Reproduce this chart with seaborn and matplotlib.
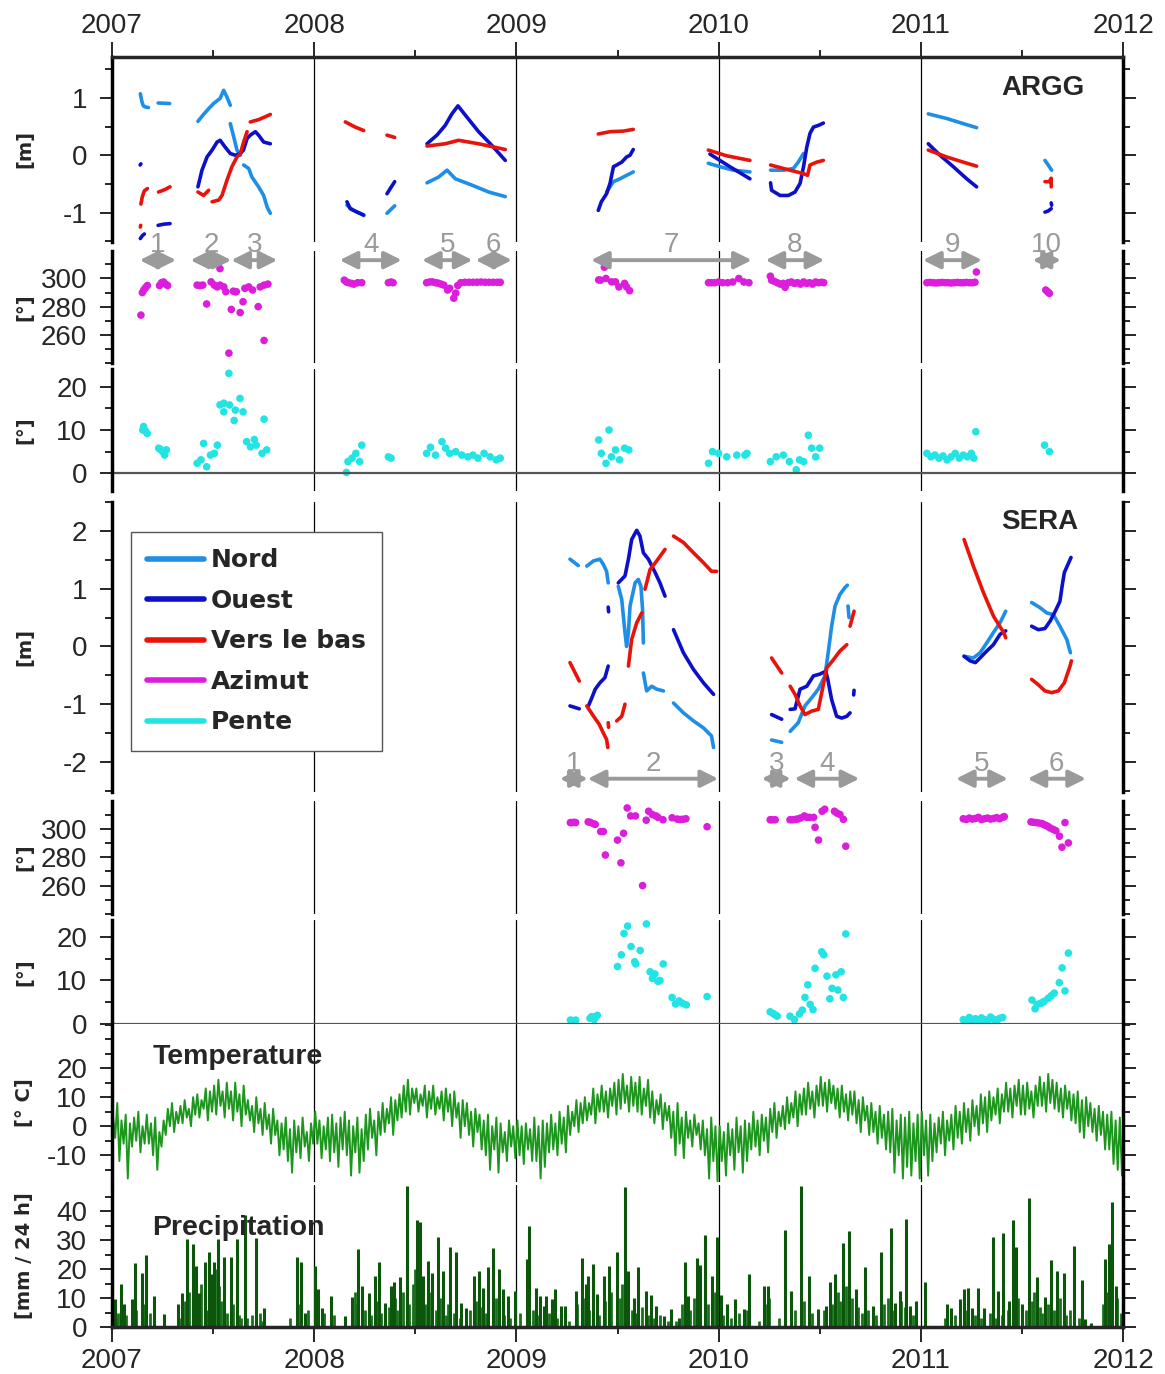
import numpy as np
import pandas as pd
import matplotlib
matplotlib.use("Agg")
import matplotlib.pyplot as plt
import seaborn as sns
from matplotlib.lines import Line2D
from matplotlib.ticker import MultipleLocator
from matplotlib.font_manager import FontProperties

# ---------------- data (decimal years) ----------------
# ARGG displacement [m], one list of (t, value) per continuous stretch
argg_nord = [
    [(2007.140, 1.07), (2007.148, 0.93), (2007.155, 0.86), (2007.165, 0.84), (2007.180, 0.83)],
    [(2007.228, 0.91), (2007.285, 0.90)],
    [(2007.425, 0.59), (2007.455, 0.72), (2007.478, 0.81), (2007.502, 0.90), (2007.535, 0.99),
     (2007.552, 1.13), (2007.569, 1.01), (2007.585, 0.87)],
    [(2007.585, 0.55), (2007.602, 0.32), (2007.618, 0.09), (2007.635, 0.00)],
    [(2007.651, -0.17), (2007.676, -0.23), (2007.692, -0.38), (2007.725, -0.55), (2007.750, -0.70),
     (2007.767, -0.90), (2007.783, -1.01)],
    [(2008.162, -0.87), (2008.190, -0.95), (2008.220, -1.00), (2008.245, -1.05)],
    [(2008.360, -1.01), (2008.398, -0.88)],
    [(2008.558, -0.48), (2008.615, -0.38), (2008.657, -0.26), (2008.698, -0.41), (2008.780, -0.52),
     (2008.863, -0.64), (2008.945, -0.72)],
    [(2009.446, -0.64), (2009.480, -0.46), (2009.512, -0.41), (2009.545, -0.35), (2009.578, -0.29)],
    [(2009.949, -0.14), (2010.007, -0.20), (2010.073, -0.26), (2010.155, -0.29)],
    [(2010.257, -0.26), (2010.320, -0.26), (2010.370, -0.23), (2010.394, -0.12), (2010.420, 0.03)],
    [(2011.037, 0.72), (2011.128, 0.64), (2011.210, 0.55), (2011.276, 0.48)],
    [(2011.614, -0.09), (2011.630, -0.17), (2011.647, -0.26)],
]
argg_ouest = [
    [(2007.139, -0.17), (2007.143, -0.15)],
    [(2007.140, -1.45), (2007.150, -1.40), (2007.160, -1.37)],
    [(2007.228, -1.22), (2007.255, -1.20), (2007.287, -1.19)],
    [(2007.425, -0.55), (2007.445, -0.26), (2007.470, -0.03), (2007.495, 0.09), (2007.520, 0.23),
     (2007.535, 0.26), (2007.560, 0.14), (2007.585, 0.03), (2007.610, 0.00), (2007.635, 0.03),
     (2007.650, 0.09), (2007.668, 0.29), (2007.684, 0.35), (2007.709, 0.41), (2007.725, 0.35),
     (2007.750, 0.23), (2007.783, 0.20)],
    [(2008.162, -0.81), (2008.178, -0.93), (2008.212, -0.99), (2008.245, -1.04)],
    [(2008.360, -0.67), (2008.398, -0.46)],
    [(2008.558, 0.20), (2008.607, 0.35), (2008.648, 0.52), (2008.681, 0.72), (2008.711, 0.86),
     (2008.747, 0.70), (2008.813, 0.41), (2008.879, 0.17), (2008.945, -0.09)],
    [(2009.405, -0.96), (2009.420, -0.81), (2009.446, -0.67), (2009.463, -0.49), (2009.480, -0.20),
     (2009.496, -0.17), (2009.521, -0.12), (2009.545, -0.03), (2009.562, 0.00), (2009.578, 0.10)],
    [(2009.957, 0.02), (2010.056, -0.20), (2010.155, -0.41)],
    [(2010.257, -0.48), (2010.262, -0.61), (2010.304, -0.70), (2010.345, -0.70), (2010.378, -0.64),
     (2010.403, -0.49), (2010.420, -0.20), (2010.436, 0.14), (2010.452, 0.38), (2010.469, 0.49),
     (2010.494, 0.52), (2010.518, 0.56)],
    [(2011.037, 0.20), (2011.095, 0.00), (2011.161, -0.20), (2011.227, -0.41), (2011.276, -0.55)],
    [(2011.645, -0.83), (2011.647, -0.87)],
    [(2011.614, -0.99), (2011.630, -0.97), (2011.645, -0.93)],
]
argg_bas = [
    [(2007.140, -1.25), (2007.142, -1.22)],
    [(2007.143, -0.85), (2007.150, -0.72), (2007.160, -0.62), (2007.175, -0.58)],
    [(2007.230, -0.64), (2007.260, -0.60), (2007.287, -0.55)],
    [(2007.425, -0.64), (2007.453, -0.70), (2007.478, -0.61)],
    [(2007.495, -0.81), (2007.528, -0.78), (2007.544, -0.70), (2007.569, -0.43), (2007.593, -0.20),
     (2007.618, -0.03), (2007.635, 0.03), (2007.651, 0.23), (2007.668, 0.41)],
    [(2007.684, 0.58), (2007.725, 0.62), (2007.758, 0.67), (2007.783, 0.71)],
    [(2008.154, 0.58), (2008.203, 0.49), (2008.245, 0.43)],
    [(2008.360, 0.35), (2008.398, 0.31)],
    [(2008.558, 0.16), (2008.648, 0.20), (2008.714, 0.26), (2008.813, 0.20), (2008.945, 0.10)],
    [(2009.405, 0.37), (2009.463, 0.41), (2009.529, 0.42), (2009.578, 0.45)],
    [(2009.949, 0.09), (2010.040, -0.01), (2010.155, -0.09)],
    [(2010.257, -0.17), (2010.320, -0.23), (2010.386, -0.29), (2010.420, -0.32), (2010.440, -0.35),
     (2010.452, -0.17), (2010.485, -0.12), (2010.518, -0.09)],
    [(2011.037, 0.09), (2011.128, -0.03), (2011.210, -0.12), (2011.276, -0.19)],
    [(2011.614, -0.46), (2011.635, -0.46), (2011.645, -0.40), (2011.645, -0.55)],
]

# SERA displacement [m]
sera_nord = [
    [(2009.265, 1.51), (2009.306, 1.40)],
    [(2009.348, 1.39), (2009.381, 1.48), (2009.413, 1.51), (2009.430, 1.42), (2009.446, 1.30), (2009.454, 1.10)],
    [(2009.504, 1.04), (2009.521, 0.81), (2009.537, 0.24), (2009.545, 0.00), (2009.554, 0.24),
     (2009.562, 0.70), (2009.587, 1.10), (2009.603, 1.16), (2009.616, 1.04), (2009.624, 0.64), (2009.628, 0.06)],
    [(2009.628, -0.46), (2009.644, -0.77), (2009.669, -0.69), (2009.694, -0.74), (2009.727, -0.77)],
    [(2009.777, -0.98), (2009.826, -1.15), (2009.876, -1.29), (2009.925, -1.41), (2009.965, -1.55), (2009.975, -1.75)],
    [(2010.262, -1.62), (2010.312, -1.66)],
    [(2010.354, -1.47), (2010.394, -1.32), (2010.427, -1.03), (2010.460, -0.89), (2010.493, -0.74),
     (2010.526, -0.51), (2010.543, -0.08), (2010.559, 0.35), (2010.576, 0.70), (2010.600, 0.90),
     (2010.625, 1.02), (2010.637, 1.06)],
    [(2010.640, 0.70), (2010.645, 0.50)],
    [(2011.214, -0.17), (2011.260, -0.20), (2011.293, -0.11), (2011.326, 0.06), (2011.359, 0.24),
     (2011.392, 0.41), (2011.420, 0.61)],
    [(2011.548, 0.76), (2011.590, 0.67), (2011.623, 0.58), (2011.656, 0.55), (2011.688, 0.35),
     (2011.722, 0.12), (2011.740, -0.11)],
]
sera_ouest = [
    [(2009.265, -1.03), (2009.311, -1.08)],
    [(2009.356, -1.03), (2009.373, -0.89), (2009.390, -0.74), (2009.413, -0.63), (2009.438, -0.54), (2009.454, -0.34)],
    [(2009.454, 0.68), (2009.456, 0.60)],
    [(2009.504, 1.10), (2009.537, 1.22), (2009.554, 1.51), (2009.570, 1.85), (2009.595, 2.01),
     (2009.611, 1.91), (2009.628, 1.62), (2009.653, 1.51), (2009.686, 1.28), (2009.710, 1.10), (2009.735, 0.87)],
    [(2009.777, 0.29), (2009.826, -0.11), (2009.876, -0.40), (2009.925, -0.63), (2009.975, -0.83)],
    [(2010.262, -1.18), (2010.312, -1.26)],
    [(2010.354, -1.09), (2010.378, -1.08), (2010.403, -0.74), (2010.436, -0.69), (2010.469, -0.51),
     (2010.500, -0.48), (2010.530, -0.43), (2010.540, -0.57), (2010.559, -0.92), (2010.584, -1.21),
     (2010.609, -1.24), (2010.634, -1.21), (2010.650, -1.15)],
    [(2010.668, -0.84), (2010.670, -0.76)],
    [(2011.214, -0.17), (2011.244, -0.25), (2011.270, -0.28), (2011.293, -0.20), (2011.326, -0.08),
     (2011.359, 0.03), (2011.392, 0.21), (2011.420, 0.27)],
    [(2011.548, 0.35), (2011.581, 0.29), (2011.614, 0.31), (2011.640, 0.44), (2011.665, 0.61),
     (2011.688, 0.78), (2011.700, 1.07), (2011.710, 1.28), (2011.743, 1.54)],
]
sera_bas = [
    [(2009.265, -0.28), (2009.311, -0.60)],
    [(2009.348, -1.03), (2009.380, -1.20), (2009.410, -1.35), (2009.430, -1.50), (2009.446, -1.61), (2009.452, -1.75)],
    [(2009.454, -1.32), (2009.456, -1.40)],
    [(2009.496, -1.29), (2009.521, -1.21), (2009.537, -1.00)],
    [(2009.554, -0.34), (2009.570, 0.12), (2009.595, 0.41), (2009.620, 0.58)],
    [(2009.636, 0.99), (2009.661, 1.33), (2009.694, 1.48), (2009.735, 1.68)],
    [(2009.777, 1.91), (2009.826, 1.80), (2009.876, 1.62), (2009.925, 1.45), (2009.965, 1.30), (2009.990, 1.30)],
    [(2010.262, -0.20), (2010.312, -0.46)],
    [(2010.354, -0.69), (2010.378, -0.83), (2010.403, -1.03), (2010.427, -1.18), (2010.460, -1.12),
     (2010.493, -1.09), (2010.510, -0.80), (2010.535, -0.37), (2010.568, -0.23), (2010.600, -0.08), (2010.634, 0.03)],
    [(2010.650, 0.35), (2010.670, 0.61)],
    [(2011.214, 1.85), (2011.260, 1.39), (2011.310, 0.93), (2011.360, 0.52), (2011.410, 0.24), (2011.420, 0.15)],
    [(2011.548, -0.57), (2011.580, -0.66), (2011.614, -0.77), (2011.647, -0.80), (2011.680, -0.77),
     (2011.710, -0.63), (2011.738, -0.34), (2011.745, -0.25)],
]

# ARGG azimuth [deg]
argg_az_t = [2007.143, 2007.150, 2007.158, 2007.166, 2007.175, 2007.235, 2007.245, 2007.255, 2007.265, 2007.275,
             2007.421, 2007.435, 2007.449, 2007.468, 2007.490, 2007.506, 2007.520, 2007.534, 2007.534, 2007.553,
             2007.563, 2007.578, 2007.590, 2007.600, 2007.610, 2007.615, 2007.634, 2007.648, 2007.657, 2007.676,
             2007.695, 2007.723, 2007.733, 2007.752, 2007.752, 2007.771,
             2008.149, 2008.160, 2008.170, 2008.185, 2008.196, 2008.215, 2008.235, 2008.367, 2008.380, 2008.390,
             2008.556, 2008.570, 2008.585, 2008.600, 2008.613, 2008.627, 2008.641, 2008.660, 2008.670, 2008.690,
             2008.700, 2008.710, 2008.725, 2008.745, 2008.765, 2008.785, 2008.805, 2008.825, 2008.845, 2008.865,
             2008.885, 2008.905, 2008.920,
             2009.407, 2009.416, 2009.435, 2009.443, 2009.471, 2009.490, 2009.507, 2009.535, 2009.545, 2009.560,
             2009.950, 2009.965, 2009.980, 2010.000, 2010.020, 2010.045, 2010.070, 2010.100, 2010.125, 2010.150,
             2010.256, 2010.262, 2010.275, 2010.290, 2010.305, 2010.320, 2010.329, 2010.345, 2010.360, 2010.375,
             2010.390, 2010.405, 2010.420, 2010.435, 2010.450, 2010.465, 2010.480, 2010.495, 2010.510, 2010.520,
             2011.030, 2011.045, 2011.060, 2011.075, 2011.090, 2011.105, 2011.120, 2011.135, 2011.150, 2011.165,
             2011.180, 2011.195, 2011.210, 2011.225, 2011.240, 2011.255, 2011.268, 2011.275,
             2011.618, 2011.628, 2011.636]
argg_az = [274, 290, 292, 293.5, 295, 295, 297, 297.5, 296, 295,
           295.3, 295, 295.3, 281.9, 297.6, 295.3, 294, 307, 295.3, 294,
           290.6, 247, 278, 291, 290.6, 290.6, 275.8, 283.5, 293, 294,
           291.8, 280, 294, 295.3, 256, 296,
           298.8, 297.5, 297, 296.5, 296, 297, 297, 297, 297.5, 297,
           297, 297.5, 297.6, 297, 296.7, 296, 295.3, 291.8, 293, 286,
           289.6, 295, 297, 297.3, 297.3, 297.3, 297.3, 297.5, 297.3, 297.3,
           297.3, 297.3, 297.3,
           299, 298.8, 308, 300, 297.6, 297.6, 294, 296.5, 294, 291.3,
           297, 297, 297, 297.5, 297, 297, 297.5, 300, 297.5, 297,
           301.6, 298.8, 298, 297, 296, 296.5, 293.7, 297, 297.5, 296.5,
           297, 296, 297.5, 296.5, 297, 296, 297.5, 297, 297.3, 297,
           297, 297.2, 297, 296.8, 297, 297.2, 297, 297, 296.8, 297,
           297.2, 297, 297, 297.2, 297, 297, 297.3, 304.6,
           291.8, 290.5, 289.4]

# ARGG slope [deg]
argg_pente_t = [2007.152, 2007.156, 2007.165, 2007.174, 2007.231, 2007.240, 2007.250, 2007.260, 2007.269,
                2007.421, 2007.440, 2007.453, 2007.468, 2007.487, 2007.506, 2007.521, 2007.534, 2007.553, 2007.553,
                2007.578, 2007.581, 2007.604, 2007.610, 2007.633, 2007.648, 2007.666, 2007.685, 2007.704, 2007.713,
                2007.742, 2007.752, 2007.765,
                2008.159, 2008.167, 2008.187, 2008.206, 2008.225, 2008.235, 2008.367, 2008.380,
                2008.556, 2008.575, 2008.600, 2008.632, 2008.650, 2008.670, 2008.700, 2008.730, 2008.760, 2008.785,
                2008.810, 2008.840, 2008.870, 2008.900, 2008.920,
                2009.407, 2009.420, 2009.443, 2009.458, 2009.470, 2009.490, 2009.510, 2009.535, 2009.556,
                2009.950, 2009.970, 2010.000, 2010.040, 2010.090, 2010.130, 2010.140,
                2010.256, 2010.285, 2010.320, 2010.350, 2010.384, 2010.400, 2010.420, 2010.444, 2010.460, 2010.480,
                2010.500,
                2011.030, 2011.050, 2011.070, 2011.090, 2011.110, 2011.130, 2011.150, 2011.170, 2011.190, 2011.210,
                2011.230, 2011.250, 2011.262, 2011.272,
                2011.612, 2011.636]
argg_pente = [10.0, 10.8, 9.8, 9.2, 5.8, 5.5, 5.0, 4.2, 5.4,
              2.3, 3.1, 6.9, 1.5, 4.2, 4.6, 6.5, 15.8, 16.2, 14.2,
              23.1, 15.8, 12.2, 14.6, 17.3, 14.2, 7.3, 6.1, 7.8, 6.5,
              4.6, 12.5, 5.4,
              0.2, 2.7, 3.5, 4.6, 2.7, 6.5, 3.8, 3.5,
              4.6, 6.0, 4.2, 7.3, 5.8, 4.6, 5.0, 4.2, 3.8, 4.2,
              3.5, 4.6, 3.8, 3.1, 3.5,
              7.7, 4.6, 2.3, 10.0, 3.8, 5.4, 3.1, 5.8, 5.4,
              2.3, 5.0, 4.6, 3.8, 4.2, 4.2, 4.6,
              2.7, 3.8, 4.2, 2.7, 0.8, 3.1, 2.7, 8.8, 5.8, 3.8,
              5.8,
              4.6, 3.8, 4.2, 3.5, 4.0, 3.1, 3.8, 4.6, 3.5, 4.2,
              3.8, 4.6, 3.5, 9.6,
              6.5, 5.0]

# SERA azimuth [deg]
sera_az_t = [2009.267, 2009.275, 2009.285, 2009.293,
             2009.355, 2009.365, 2009.380, 2009.390, 2009.417, 2009.430, 2009.440, 2009.500, 2009.517, 2009.530,
             2009.548, 2009.565, 2009.589, 2009.624, 2009.642, 2009.654, 2009.672, 2009.690, 2009.700, 2009.725,
             2009.770, 2009.795, 2009.810, 2009.823, 2009.838, 2009.943,
             2010.255, 2010.265, 2010.280,
             2010.353, 2010.365, 2010.380, 2010.390, 2010.405, 2010.424, 2010.437, 2010.450, 2010.470, 2010.477,
             2010.494, 2010.512, 2010.525, 2010.573, 2010.585, 2010.600, 2010.617, 2010.629,
             2011.210, 2011.225, 2011.240, 2011.255, 2011.270, 2011.285, 2011.300, 2011.315, 2011.330, 2011.345,
             2011.360, 2011.375, 2011.390, 2011.405, 2011.413,
             2011.545, 2011.557, 2011.570, 2011.585, 2011.600, 2011.610, 2011.620, 2011.630, 2011.640, 2011.655,
             2011.668, 2011.686, 2011.698, 2011.713, 2011.730]
sera_az = [304.3, 304.3, 304.5, 304.3,
           304.8, 304.5, 303.6, 303, 298, 298, 281.5, 292, 276, 296.8,
           314.6, 309, 309, 260, 306, 312.3, 310, 309, 308, 306.3,
           307.7, 306.8, 306.5, 306.6, 307, 301.4,
           306.3, 306.3, 306.3,
           306.3, 306.3, 306.5, 306.8, 307.5, 309, 308, 308, 308, 301,
           292, 312.3, 313.7, 312.3, 311, 310, 306.6, 287.7,
           307, 306.5, 307.5, 306.8, 307.2, 308, 306.5, 307, 307.5, 306.8,
           307.2, 307.8, 307, 308, 308.5,
           304.8, 304.5, 304.3, 304, 303.6, 302.8, 302.3, 301.5, 300.5, 299.5,
           298.6, 294.7, 287, 304.3, 290]

# SERA slope [deg]
sera_pente_t = [2009.267, 2009.275, 2009.293, 2009.364, 2009.372, 2009.385, 2009.392, 2009.400,
                2009.500, 2009.519, 2009.532, 2009.550, 2009.567, 2009.585, 2009.590, 2009.612, 2009.643, 2009.661,
                2009.673, 2009.685, 2009.700, 2009.710, 2009.726, 2009.770, 2009.787, 2009.805, 2009.820, 2009.840,
                2009.943,
                2010.255, 2010.270, 2010.280, 2010.290,
                2010.353, 2010.375, 2010.400, 2010.414, 2010.427, 2010.441, 2010.453, 2010.467, 2010.477, 2010.510,
                2010.520, 2010.536, 2010.550, 2010.561, 2010.580, 2010.590, 2010.606, 2010.617, 2010.629,
                2011.210, 2011.225, 2011.240, 2011.255, 2011.270, 2011.285, 2011.300, 2011.315, 2011.330, 2011.345,
                2011.360, 2011.375, 2011.390, 2011.405,
                2011.550, 2011.565, 2011.575, 2011.590, 2011.600, 2011.610, 2011.630, 2011.645, 2011.660, 2011.685,
                2011.699, 2011.713, 2011.730]
sera_pente = [0.9, 0.8, 0.9, 1.3, 1.7, 1.0, 1.6, 2.0,
              13.2, 15.9, 20.8, 22.5, 17.8, 14.3, 13.8, 16.9, 23.0, 12.0,
              10.5, 11.5, 9.8, 10.0, 13.8, 6.1, 4.6, 5.3, 4.8, 4.4,
              6.3,
              2.8, 2.4, 2.1, 1.8,
              1.8, 1.0, 2.3, 3.2, 6.1, 9.0, 4.5, 3.3, 12.8, 16.6,
              15.9, 11.0, 5.8, 8.2, 11.3, 7.8, 12.0, 6.1, 20.7,
              1.0, 0.6, 1.5, 0.8, 1.2, 0.5, 1.4, 1.0, 0.7, 1.6,
              1.1, 0.8, 1.3, 1.5,
              5.5, 3.5, 4.5, 4.7, 4.9, 5.2, 5.9, 6.5, 7.1, 9.5,
              12.9, 7.6, 16.3]

# temperature [deg C], 96 readings per year (8 per month)
temp_2007 = [3, -4, 8, -12, 2, -6, 4, -18, 1, -7, 3, -5, 5, -9, 0, -6,
             4, -6, 1, -10, 3, -15, -2, -7, 2, -3, 6, 0, 8, -2, 5, 1,
             7, 1, 9, 3, 6, 0, 10, 4, 11, 3, 9, 6, 13, 2, 12, 5,
             14, 4, 16, 7, 12, 3, 15, 6, 12, 2, 15, 5, 11, 0, 14, 4,
             9, 2, 7, -2, 10, 1, 6, -3, 8, -1, 4, -6, 6, -3, 2, -10,
             1, -8, 3, -12, -1, -16, 2, -9, 0, -11, 3, -7, -2, -12, 1, -6]
temp_2008 = [5, -6, 2, -11, 0, -8, 3, -12, 4, -9, 1, -14, 3, -8, 5, -10,
             2, -17, 0, -9, 3, -16, -1, -12, 4, -8, 6, -4, 2, -10, 5, -3,
             8, -2, 6, 1, 10, -3, 9, 2, 11, 3, 14, 5, 16, 4, 13, 8,
             13, 5, 11, 7, 14, 3, 12, 6, 14, 4, 10, 6, 12, 2, 13, 5,
             11, 0, 12, 3, 8, -4, 9, 0, 8, -3, 5, -7, 6, -2, 4, -8,
             2, -10, 4, -15, 0, -8, 3, -16, 1, -9, -2, -12, 2, -7, 0, -11]
temp_2009 = [2, -10, 0, -13, 1, -8, -1, -12, 3, -12, 0, -18, 2, -14, 1, -9,
             4, -8, 1, -10, 5, -6, 3, -9, 7, -3, 5, 0, 9, -2, 8, 1,
             10, 2, 8, 4, 13, 1, 11, 5, 14, 5, 12, 3, 13, 7, 15, 4,
             16, 6, 18, 8, 14, 5, 17, 7, 15, 5, 17, 4, 13, 7, 16, 3,
             12, 1, 9, 4, 11, -1, 8, 2, 7, -4, 5, -10, 8, -6, 3, -11,
             5, -4, 2, -7, 4, -3, 1, -8, 2, -10, -1, -18, 3, -12, 0, -19]
temp_2010 = [0, -12, -2, -17, 1, -10, -1, -15, 3, -9, 0, -16, 2, -12, 1, -8,
             5, -7, 2, -10, 4, -5, 3, -9, 6, -2, 8, -4, 5, 0, 7, -1,
             10, 1, 8, 3, 12, 0, 11, 4, 13, 4, 15, 6, 12, 3, 14, 7,
             17, 7, 15, 5, 16, 8, 14, 6, 13, 3, 14, 5, 11, 2, 12, 4,
             12, 1, 9, -2, 10, 2, 7, -3, 8, -2, 5, -6, 7, -4, 4, -8,
             5, -9, 6, -16, 2, -10, 4, -18, 3, -14, 5, -17, 1, -12, 4, -18]
temp_2011 = [5, -10, 2, -17, 4, -12, 1, -9, 3, -6, 5, -10, 2, -5, 4, -8,
             7, -4, 5, -6, 8, -2, 6, -5, 9, 0, 7, -3, 11, 1, 10, -2,
             12, 2, 10, 4, 13, 1, 11, 5, 15, 5, 13, 3, 14, 7, 16, 4,
             14, 4, 15, 6, 12, 3, 14, 7, 17, 7, 15, 5, 18, 8, 16, 6,
             15, 5, 13, 3, 14, 6, 12, 2, 11, 1, 12, -2, 9, -4, 10, 0,
             8, -2, 6, -5, 7, -3, 5, -8, 4, -8, 5, -13, 2, -15, 3, -17]

# precipitation [mm / 24 h], notable rain days
prec_t = [2007.015, 2007.045, 2007.060, 2007.100, 2007.114, 2007.148, 2007.167, 2007.210, 2007.256, 2007.328,
          2007.347, 2007.370, 2007.400, 2007.413, 2007.432, 2007.460, 2007.479, 2007.490, 2007.504, 2007.523,
          2007.555, 2007.587, 2007.616, 2007.659, 2007.712, 2007.754, 2007.915, 2007.934, 2007.956,
          2008.004, 2008.019, 2008.038, 2008.085, 2008.152, 2008.186, 2008.218, 2008.237, 2008.270, 2008.300,
          2008.322, 2008.350, 2008.380, 2008.394, 2008.426, 2008.458, 2008.508, 2008.525, 2008.540, 2008.564,
          2008.583, 2008.610, 2008.638, 2008.672, 2008.700, 2008.727, 2008.750, 2008.790, 2008.814, 2008.837,
          2008.860, 2008.886, 2008.913, 2008.932, 2008.956, 2008.994,
          2009.051, 2009.064, 2009.098, 2009.117, 2009.136, 2009.146, 2009.174, 2009.190, 2009.222, 2009.240,
          2009.297, 2009.322, 2009.345, 2009.354, 2009.379, 2009.398, 2009.434, 2009.458, 2009.498, 2009.535,
          2009.550, 2009.580, 2009.600, 2009.642, 2009.664, 2009.692, 2009.729, 2009.766, 2009.803, 2009.834,
          2009.849, 2009.891, 2009.910, 2009.932, 2009.969, 2009.993,
          2010.011, 2010.042, 2010.079, 2010.125, 2010.148, 2010.227, 2010.245, 2010.328, 2010.356, 2010.406,
          2010.448, 2010.494, 2010.531, 2010.550, 2010.577, 2010.615, 2010.646, 2010.679, 2010.725, 2010.762,
          2010.804, 2010.854, 2010.873, 2010.897, 2010.928, 2010.946, 2010.974,
          2011.020, 2011.131, 2011.149, 2011.196, 2011.214, 2011.232, 2011.251, 2011.284, 2011.315, 2011.358,
          2011.380, 2011.408, 2011.435, 2011.454, 2011.472, 2011.500, 2011.537, 2011.574, 2011.614, 2011.646,
          2011.673, 2011.708, 2011.757, 2011.795, 2011.810, 2011.840, 2011.913, 2011.930, 2011.948, 2011.965]
prec_mm = [9.6, 14.8, 7.9, 9.6, 22, 18.8, 25, 10.7, 4.6, 7.9,
           11.9, 30.4, 28.7, 21.2, 11.9, 22.3, 26, 18.3, 22.5, 30.4,
           24.3, 24, 30.4, 38.7, 30.6, 6.7, 24, 22.3, 5,
           21.2, 13, 6.7, 10.7, 3.8, 10.2, 27, 14.2, 11.9, 17.7,
           22.3, 8.4, 14.2, 15.4, 17.1, 48.7, 37, 36.2, 17.7, 22.9,
           18.8, 31, 19.4, 27.5, 25.8, 8.4, 6.7, 17.7, 19.4, 13.6,
           20.6, 27.2, 20, 13, 10.7, 12.5,
           23.5, 34.8, 13.6, 10.7, 7.3, 10.7, 9.6, 13, 7.3, 7.3,
           12.5, 23.7, 14.8, 17.7, 21.7, 11.3, 17.7, 21.2, 26, 48.3,
           19.4, 10, 20.8, 12.5, 11, 7.3, 3.8, 6.1, 3.2, 22.3,
           10.7, 23.7, 21.4, 31.6, 17.7, 31,
           11, 7.9, 9.6, 6.1, 18.3, 14.2, 14.2, 33.6, 12.5, 48.7,
           17.7, 6.1, 7.3, 15.4, 18.3, 29, 33, 13, 20.6, 7.3,
           25.8, 34.2, 8.4, 12.5, 37.1, 7.3, 9,
           15.4, 7.9, 6.7, 9.6, 13, 13.6, 6.7, 13.3, 6.7, 31,
           12.5, 32.5, 9, 36.8, 27.5, 7.9, 44.5, 17.1, 10.2, 23.2,
           19.4, 18.8, 28.1, 16.3, 2.9, 1.5, 23.5, 28.7, 43.1, 14.2]
# smaller rain days
prec_small_t = [2007.02, 2007.03, 2007.07, 2007.12, 2007.16, 2007.19, 2007.34, 2007.36, 2007.38, 2007.42,
                2007.44, 2007.47, 2007.50, 2007.51, 2007.53, 2007.54, 2007.57, 2007.60, 2007.63, 2007.64,
                2007.67, 2007.69, 2007.73, 2007.74, 2007.88, 2007.92, 2007.97,
                2008.05, 2008.10, 2008.20, 2008.21, 2008.25, 2008.28, 2008.31, 2008.33, 2008.37, 2008.40,
                2008.41, 2008.44, 2008.47, 2008.49, 2008.50, 2008.52, 2008.55, 2008.57, 2008.60, 2008.62,
                2008.65, 2008.66, 2008.69, 2008.72, 2008.77, 2008.80, 2008.82, 2008.85, 2008.90, 2008.94, 2008.97,
                2009.02, 2009.08, 2009.11, 2009.16, 2009.20, 2009.26, 2009.30, 2009.33, 2009.36, 2009.41,
                2009.44, 2009.47, 2009.51, 2009.52, 2009.57, 2009.59, 2009.62, 2009.65, 2009.68, 2009.71,
                2009.75, 2009.79, 2009.82, 2009.86, 2009.88, 2009.90, 2009.95, 2009.98,
                2010.02, 2010.06, 2010.10, 2010.14, 2010.20, 2010.23, 2010.25, 2010.30, 2010.33, 2010.38,
                2010.42, 2010.46, 2010.52, 2010.56, 2010.59, 2010.60, 2010.63, 2010.66, 2010.69, 2010.71,
                2010.74, 2010.78, 2010.82, 2010.84, 2010.86, 2010.90, 2010.92, 2010.96,
                2011.12, 2011.17, 2011.22, 2011.27, 2011.30, 2011.34, 2011.37, 2011.40, 2011.43, 2011.46,
                2011.48, 2011.52, 2011.55, 2011.56, 2011.59, 2011.60, 2011.63, 2011.66, 2011.69, 2011.72,
                2011.74, 2011.78, 2011.90, 2011.92, 2011.94, 2011.97, 2011.99]
prec_small_mm = [3, 5, 4, 6, 8, 5, 3, 9, 12, 8,
                 15, 6, 12, 20, 14, 9, 5, 8, 4, 3,
                 3, 4, 5, 2, 3, 8, 6,
                 5, 4, 12, 8, 6, 4, 9, 5, 7, 10,
                 6, 12, 8, 15, 20, 10, 8, 12, 6, 10,
                 4, 8, 5, 3, 6, 9, 7, 5, 10, 4, 3,
                 5, 6, 4, 5, 3, 2, 8, 10, 6, 4,
                 9, 12, 10, 15, 6, 5, 7, 4, 3, 4,
                 2, 2, 8, 6, 10, 5, 8, 12,
                 4, 3, 5, 6, 2, 8, 10, 3, 12, 6,
                 9, 5, 6, 8, 12, 9, 14, 10, 7, 5,
                 6, 4, 8, 10, 6, 9, 7, 4,
                 3, 4, 6, 4, 3, 5, 3, 4, 6, 8,
                 10, 6, 9, 12, 7, 5, 8, 6, 10, 4,
                 6, 3, 8, 12, 18, 10, 5]

# campaign arrows: (start, end, label)
argg_campaigns = [(2007.137, 2007.317, "1"), (2007.388, 2007.590, "2"), (2007.590, 2007.818, "3"),
                  (2008.126, 2008.433, "4"), (2008.533, 2008.783, "5"), (2008.798, 2008.978, "6"),
                  (2009.369, 2010.164, "7"), (2010.232, 2010.523, "8"), (2011.011, 2011.303, "9"),
                  (2011.553, 2011.693, "10")]
sera_campaigns = [(2009.215, 2009.353, "1"), (2009.353, 2009.998, "2"), (2010.213, 2010.357, "3"),
                  (2010.375, 2010.696, "4"), (2011.174, 2011.431, "5"), (2011.528, 2011.817, "6")]

components = ["Nord", "Ouest", "Vers le bas"]
colors = {"Nord": "#1e8ee6", "Ouest": "#0c10c8", "Vers le bas": "#e8140c",
          "Azimut": "#dc1edc", "Pente": "#22e4e4"}
temp_color = "#1c961c"
prec_color = "#0b560b"
arrow_gray = "#9a9a9a"


def seg_frame(series):
    rows = []
    for comp, segs in series.items():
        for k, seg in enumerate(segs):
            for t, v in seg:
                rows.append((t, v, comp, f"{comp}-{k}"))
    return pd.DataFrame(rows, columns=["t", "v", "comp", "seg"])


argg_df = seg_frame({"Nord": argg_nord, "Ouest": argg_ouest, "Vers le bas": argg_bas})
sera_df = seg_frame({"Nord": sera_nord, "Ouest": sera_ouest, "Vers le bas": sera_bas})

temp = np.array(temp_2007 + temp_2008 + temp_2009 + temp_2010 + temp_2011, dtype=float)
temp_t = 2007 + (np.arange(len(temp)) + 0.5) / 96.0

# ---------------- figure ----------------
sns.set_style("ticks")
plt.rcParams["font.family"] = ["Liberation Sans", "DejaVu Sans"]
plt.rcParams["font.size"] = 20
plt.rcParams["axes.unicode_minus"] = False

W, H = 1165, 1374
fig = plt.figure(figsize=(W / 100, H / 100), dpi=100)


def box(top, bottom):
    return [112 / W, 1 - bottom / H, 1011 / W, (bottom - top) / H]


ax1 = fig.add_axes(box(57, 242))
ax2 = fig.add_axes(box(251, 363))
ax3 = fig.add_axes(box(369, 491))
ax4 = fig.add_axes(box(502, 792))
ax5 = fig.add_axes(box(801, 914))
ax6 = fig.add_axes(box(920, 1024))
ax7 = fig.add_axes(box(1024, 1182))
ax8 = fig.add_axes(box(1185, 1327))
axes = [ax1, ax2, ax3, ax4, ax5, ax6, ax7, ax8]

ylabel_font = FontProperties(family="DejaVu Sans", weight="bold", size=14)

for ax in axes:
    ax.set_xlim(2007, 2012)
    for s in ["top", "bottom"]:
        ax.spines[s].set_visible(False)
    for s in ["left", "right"]:
        ax.spines[s].set_linewidth(2.5)
        ax.spines[s].set_color("black")
    for yr in [2008, 2009, 2010, 2011]:
        ax.axvline(yr, color="black", lw=0.9, zorder=0)
    ax.tick_params(axis="x", which="both", bottom=False, top=False, labelbottom=False, labeltop=False)
    ax.tick_params(axis="y", which="both", left=True, right=True, direction="out", labelsize=20, width=1.4)
    ax.tick_params(axis="y", which="major", length=9, pad=9)
    ax.tick_params(axis="y", which="minor", length=5)
    ax.set_xlabel("")

# displacement lines
for ax, df in [(ax1, argg_df), (ax4, sera_df)]:
    sns.lineplot(data=df, x="t", y="v", hue="comp", hue_order=components, units="seg",
                 estimator=None, sort=False, palette=colors, lw=2.6, legend=False, ax=ax)
    ax.yaxis.set_major_locator(MultipleLocator(1))
    ax.yaxis.set_minor_locator(MultipleLocator(0.5))
    ax.set_xlabel("")
ax1.set_ylim(-1.51, 1.71)
ax4.set_ylim(-2.52, 2.5)

# azimuth / slope points
sns.scatterplot(x=argg_az_t, y=argg_az, color=colors["Azimut"], s=30, edgecolor="none", ax=ax2)
sns.scatterplot(x=argg_pente_t, y=argg_pente, color=colors["Pente"], s=30, edgecolor="none", ax=ax3)
sns.scatterplot(x=sera_az_t, y=sera_az, color=colors["Azimut"], s=30, edgecolor="none", ax=ax5)
sns.scatterplot(x=sera_pente_t, y=sera_pente, color=colors["Pente"], s=30, edgecolor="none",
                clip_on=False, ax=ax6)
for ax in [ax2, ax5]:
    ax.set_ylim(240, 319.5)
    ax.yaxis.set_minor_locator(MultipleLocator(10))
    ax.set_yticks([260, 280, 300])
for ax in [ax3, ax6]:
    ax.yaxis.set_minor_locator(MultipleLocator(5))
ax3.set_ylim(-4.1, 24.1)
ax3.set_yticks([0, 10, 20])
ax3.axhline(0, color="#555555", lw=1.6, zorder=1)
ax6.set_ylim(0, 23.9)
ax6.set_yticks([0, 10, 20])
ax6.spines["bottom"].set_visible(True)
ax6.spines["bottom"].set_color("#555555")
ax6.spines["bottom"].set_linewidth(1.6)

# temperature
sns.lineplot(x=temp_t, y=temp, color=temp_color, lw=1.4, ax=ax7)
ax7.set_ylim(-19.2, 35.2)
ax7.set_yticks([-10, 0, 10, 20])
ax7.yaxis.set_minor_locator(MultipleLocator(5))

# precipitation
ax8.vlines(prec_small_t, 0, prec_small_mm, color="#17701a", lw=2.0)
ax8.vlines(prec_t, 0, prec_mm, color=prec_color, lw=2.2)
ax8.set_ylim(0, 49)
ax8.set_yticks([0, 10, 20, 30, 40])
ax8.yaxis.set_minor_locator(MultipleLocator(5))

# x axes (top and bottom)
years = [2007, 2008, 2009, 2010, 2011, 2012]
ax1.spines["top"].set_visible(True)
ax1.spines["top"].set_linewidth(2.5)
ax1.set_xticks(years)
ax1.set_xticklabels([str(y) for y in years])
ax1.xaxis.set_minor_locator(MultipleLocator(0.5))
ax1.tick_params(axis="x", which="both", top=True, labeltop=True, bottom=False, labelbottom=False,
                direction="out", labelsize=20, width=1.4)
ax1.tick_params(axis="x", which="major", length=11, pad=2)
ax1.tick_params(axis="x", which="minor", length=5)

ax8.spines["bottom"].set_visible(True)
ax8.spines["bottom"].set_linewidth(2.5)
ax8.set_xticks(years)
ax8.set_xticklabels([str(y) for y in years])
ax8.xaxis.set_minor_locator(MultipleLocator(0.5))
ax8.tick_params(axis="x", which="both", bottom=True, labelbottom=True, direction="out",
                labelsize=20, width=1.4)
ax8.tick_params(axis="x", which="major", length=11, pad=4)
ax8.tick_params(axis="x", which="minor", length=5)

# y labels
for ax, lab in zip(axes, ["[m]", "[°]", "[°]", "[m]", "[°]", "[°]", "[° C]", "[mm / 24 h]"]):
    ax.set_ylabel(lab, fontproperties=ylabel_font)
    ax.yaxis.set_label_coords(-0.077, 0.5)


# campaign arrows
def draw_campaigns(ax, campaigns, y_arrow, y_text):
    for x0, x1, lab in campaigns:
        ax.annotate("", xy=(x1, y_arrow), xytext=(x0, y_arrow), annotation_clip=False,
                    arrowprops=dict(arrowstyle="<|-|>", color=arrow_gray, lw=2.8,
                                    mutation_scale=26, shrinkA=0, shrinkB=0))
        ax.text((x0 + x1) / 2, y_text, lab, color=arrow_gray, fontsize=20,
                ha="center", va="center", clip_on=False)


draw_campaigns(ax2, argg_campaigns, 313, 323.5)
draw_campaigns(ax4, sera_campaigns, -2.29, -2.03)

# station and panel titles
ax1.text(0.921, 0.83, "ARGG", transform=ax1.transAxes, fontsize=20, fontweight="bold",
         ha="center", va="center")
ax4.text(0.918, 0.93, "SERA", transform=ax4.transAxes, fontsize=20, fontweight="bold",
         ha="center", va="center")
ax7.text(0.04, 0.79, "Temperature", transform=ax7.transAxes, fontsize=20.5, fontweight="bold",
         ha="left", va="center")
ax8.text(0.04, 0.70, "Precipitation", transform=ax8.transAxes, fontsize=20.5, fontweight="bold",
         ha="left", va="center")

# legend
legend_labels = ["Nord", "Ouest", "Vers le bas", "Azimut", "Pente"]
handles = [Line2D([0], [0], color=colors[k], lw=4) for k in legend_labels]
fig.legend(handles, legend_labels, loc="upper left", bbox_to_anchor=(131 / W, 1 - 532 / H),
           frameon=True, fancybox=False, edgecolor="#555555", framealpha=1,
           prop=FontProperties(family="DejaVu Sans", weight="bold", size=18),
           handlelength=2.25, labelspacing=0.66, borderpad=0.65, handletextpad=0.3, borderaxespad=0)

fig.savefig("out.png", dpi=100)
